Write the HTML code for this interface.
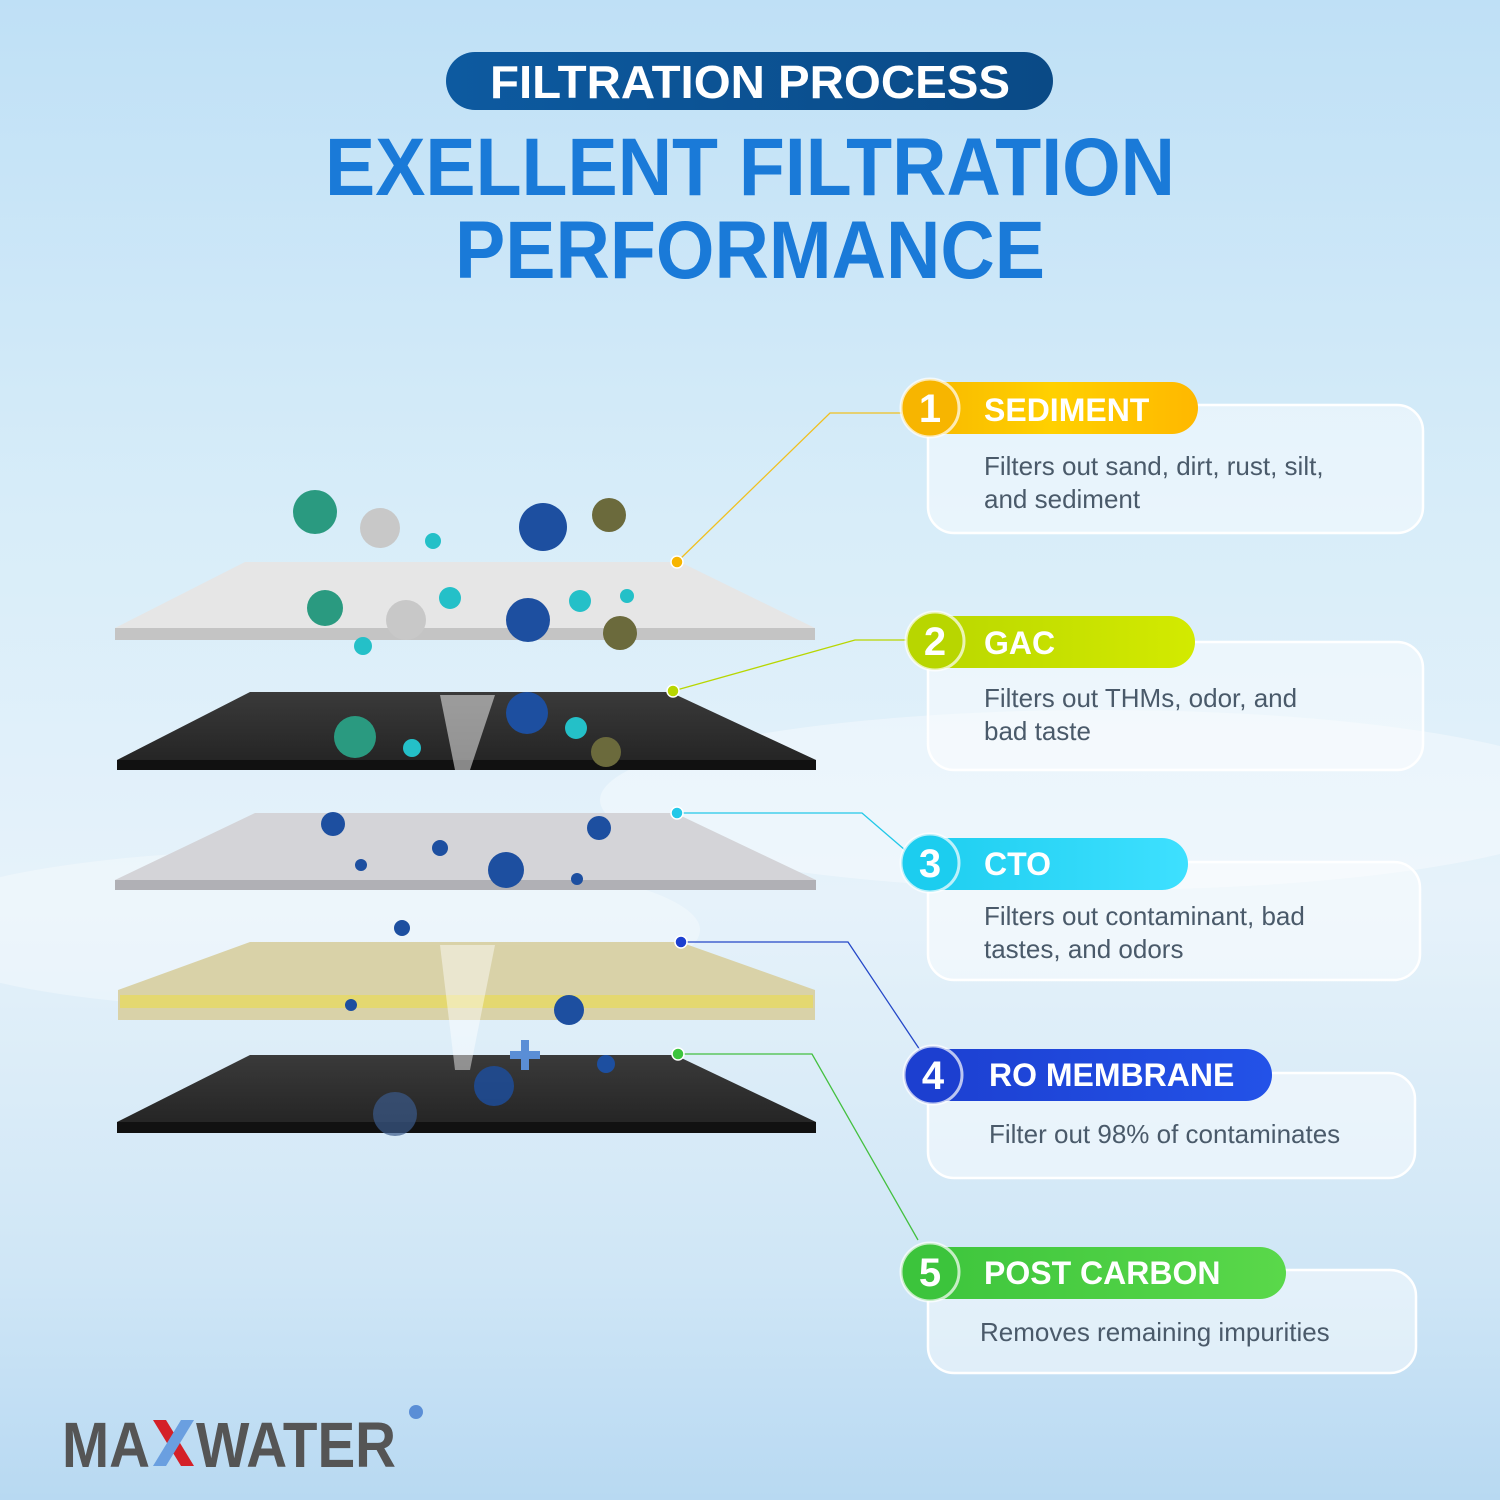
<!DOCTYPE html>
<html><head><meta charset="utf-8"><style>
html,body{margin:0;padding:0}
body{width:1500px;height:1500px;overflow:hidden;font-family:"Liberation Sans",sans-serif}
</style></head><body>
<svg width="1500" height="1500" viewBox="0 0 1500 1500" xmlns="http://www.w3.org/2000/svg" font-family="Liberation Sans, sans-serif">
<defs>
<linearGradient id="bg" x1="0" y1="0" x2="0" y2="1">
<stop offset="0" stop-color="#bfe0f6"/><stop offset="0.35" stop-color="#d8edf9"/><stop offset="0.6" stop-color="#e6f2fa"/><stop offset="0.85" stop-color="#cfe6f6"/><stop offset="1" stop-color="#b8d9f2"/></linearGradient>
<linearGradient id="tp" x1="0" y1="0" x2="1" y2="0"><stop offset="0" stop-color="#0d5aa0"/><stop offset="1" stop-color="#0a4a86"/></linearGradient>
<linearGradient id="p1" x1="0" x2="1"><stop offset="0" stop-color="#f7b500"/><stop offset=".5" stop-color="#ffd000"/><stop offset="1" stop-color="#ffb800"/></linearGradient>
<linearGradient id="p2" x1="0" x2="1"><stop offset="0" stop-color="#b8d600"/><stop offset="1" stop-color="#d3ea00"/></linearGradient>
<linearGradient id="p3" x1="0" x2="1"><stop offset="0" stop-color="#1ccdef"/><stop offset="1" stop-color="#3ee0ff"/></linearGradient>
<linearGradient id="p4" x1="0" x2="1"><stop offset="0" stop-color="#1c3fd0"/><stop offset="1" stop-color="#2352e8"/></linearGradient>
<linearGradient id="p5" x1="0" x2="1"><stop offset="0" stop-color="#3cc43c"/><stop offset="1" stop-color="#5ad84a"/></linearGradient>
<linearGradient id="dk" x1="0" y1="0" x2="0" y2="1"><stop offset="0" stop-color="#3a3a3a"/><stop offset="1" stop-color="#222"/></linearGradient>
</defs>
<rect width="1500" height="1500" fill="url(#bg)"/>
<ellipse cx="1100" cy="800" rx="500" ry="90" fill="#fff" opacity=".35"/>
<ellipse cx="300" cy="930" rx="400" ry="80" fill="#fff" opacity=".3"/>

<!-- title -->
<rect x="446" y="52" width="607" height="58" rx="29" fill="url(#tp)"/>
<text x="750" y="98" text-anchor="middle" fill="#fff" font-size="46" font-weight="bold" textLength="520" lengthAdjust="spacingAndGlyphs">FILTRATION PROCESS</text>
<text x="750" y="195" text-anchor="middle" fill="#1a7ad8" font-size="82" font-weight="bold" textLength="850" lengthAdjust="spacingAndGlyphs">EXELLENT FILTRATION</text>
<text x="750" y="278" text-anchor="middle" fill="#1a7ad8" font-size="82" font-weight="bold" textLength="590" lengthAdjust="spacingAndGlyphs">PERFORMANCE</text>

<!-- layers -->
<polygon points="245,562 680,562 815,628 815,640 115,640 115,628" fill="#e6e6e6"/>
<polygon points="115,628 815,628 815,640 115,640" fill="#c4c4c4"/>
<polygon points="250,692 670,692 816,760 816,770 117,770 117,760" fill="url(#dk)"/>
<polygon points="117,760 816,760 816,770 117,770" fill="#111"/>
<polygon points="255,813 675,813 816,880 816,890 115,890 115,880" fill="#d4d4d8"/>
<polygon points="115,880 816,880 816,890 115,890" fill="#b0b0b5"/>
<polygon points="250,942 680,942 815,990 815,1020 118,1020 118,990" fill="#d9d2a8"/>
<polygon points="120,995 813,995 813,1008 120,1008" fill="#e4d870"/>
<polygon points="250,1055 675,1055 816,1122 816,1133 117,1133 117,1122" fill="url(#dk)"/>
<polygon points="117,1122 816,1122 816,1133 117,1133" fill="#111"/>
<polygon points="440,695 495,695 470,770 455,770" fill="#fff" opacity=".5"/>
<polygon points="440,945 495,945 470,1070 455,1070" fill="#fff" opacity=".45"/>

<!-- particles -->
<g>
<circle cx="315" cy="512" r="22" fill="#2a9a80"/><circle cx="380" cy="528" r="20" fill="#c8c8c8"/><circle cx="433" cy="541" r="8" fill="#24c0c8"/>
<circle cx="543" cy="527" r="24" fill="#1d4fa0"/><circle cx="609" cy="515" r="17" fill="#6b6a3c"/>
<circle cx="325" cy="608" r="18" fill="#2a9a80"/><circle cx="406" cy="620" r="20" fill="#c8c8c8"/><circle cx="450" cy="598" r="11" fill="#24c0c8"/>
<circle cx="528" cy="620" r="22" fill="#1d4fa0"/><circle cx="580" cy="601" r="11" fill="#24c0c8"/><circle cx="620" cy="633" r="17" fill="#6b6a3c"/><circle cx="627" cy="596" r="7" fill="#24c0c8"/><circle cx="363" cy="646" r="9" fill="#24c0c8"/>
<circle cx="355" cy="737" r="21" fill="#2a9a80"/><circle cx="412" cy="748" r="9" fill="#24c0c8"/><circle cx="527" cy="713" r="21" fill="#1d4fa0"/><circle cx="576" cy="728" r="11" fill="#24c0c8"/><circle cx="606" cy="752" r="15" fill="#6b6a3c"/>
<circle cx="333" cy="824" r="12" fill="#1d4fa0"/><circle cx="599" cy="828" r="12" fill="#1d4fa0"/><circle cx="440" cy="848" r="8" fill="#1d4fa0"/><circle cx="506" cy="870" r="18" fill="#1d4fa0"/><circle cx="361" cy="865" r="6" fill="#1d4fa0"/><circle cx="577" cy="879" r="6" fill="#1d4fa0"/>
<circle cx="402" cy="928" r="8" fill="#1d4fa0"/><circle cx="351" cy="1005" r="6" fill="#1d4fa0"/><circle cx="569" cy="1010" r="15" fill="#1d4fa0"/><circle cx="606" cy="1064" r="9" fill="#1d4fa0"/><circle cx="494" cy="1086" r="20" fill="#1d4fa0" opacity=".8"/><circle cx="395" cy="1114" r="22" fill="#3b5a8a" opacity=".7"/>
<rect x="521" y="1040" width="8" height="30" fill="#5a8ed6"/><rect x="510" y="1051" width="30" height="8" fill="#5a8ed6"/>
</g>

<!-- connectors -->
<g fill="none" stroke-width="1.3">
<polyline points="677,562 830,413 905,413" stroke="#f0c020"/>
<polyline points="673,691 855,640 910,640" stroke="#b8d600"/>
<polyline points="677,813 862,813 905,850" stroke="#22c8e8"/>
<polyline points="681,942 848,942 920,1050" stroke="#2447c8"/>
<polyline points="678,1054 812,1054 918,1240" stroke="#44c040"/>
</g>
<circle cx="677" cy="562" r="6" fill="#f7b500" stroke="#fff" stroke-width="1.5"/>
<circle cx="673" cy="691" r="6" fill="#b8d600" stroke="#fff" stroke-width="1.5"/>
<circle cx="677" cy="813" r="6" fill="#22c8e8" stroke="#fff" stroke-width="1.5"/>
<circle cx="681" cy="942" r="6" fill="#1c3fd0" stroke="#fff" stroke-width="1.5"/>
<circle cx="678" cy="1054" r="6" fill="#3cc43c" stroke="#fff" stroke-width="1.5"/>

<!-- cards -->
<g fill="#ffffff" fill-opacity=".45" stroke="#fff" stroke-width="2.5">
<rect x="928" y="405" width="495" height="128" rx="26"/>
<rect x="928" y="642" width="495" height="128" rx="26"/>
<rect x="928" y="862" width="492" height="118" rx="26"/>
<rect x="928" y="1073" width="487" height="105" rx="26"/>
<rect x="928" y="1270" width="488" height="103" rx="26"/>
</g>
<rect x="905" y="382" width="293" height="52" rx="26" fill="url(#p1)"/>
<rect x="910" y="616" width="285" height="52" rx="26" fill="url(#p2)"/>
<rect x="905" y="838" width="283" height="52" rx="26" fill="url(#p3)"/>
<rect x="910" y="1049" width="362" height="52" rx="26" fill="url(#p4)"/>
<rect x="905" y="1247" width="381" height="52" rx="26" fill="url(#p5)"/>
<g stroke="#fff" stroke-width="3" stroke-opacity=".7">
<circle cx="930" cy="408" r="29" fill="#f7b500"/>
<circle cx="935" cy="641" r="29" fill="#b8d600"/>
<circle cx="930" cy="863" r="29" fill="#1ccdef"/>
<circle cx="933" cy="1075" r="29" fill="#1c3fd0"/>
<circle cx="930" cy="1272" r="29" fill="#3cc43c"/>
</g>
<g fill="#fff" font-weight="bold" font-size="40" text-anchor="middle">
<text x="930" y="422">1</text><text x="935" y="655">2</text><text x="930" y="877">3</text><text x="933" y="1089">4</text><text x="930" y="1286">5</text>
</g>
<g fill="#fff" font-weight="bold" font-size="32">
<text x="984" y="421">SEDIMENT</text>
<text x="984" y="654">GAC</text>
<text x="984" y="875">CTO</text>
<text x="989" y="1086">RO MEMBRANE</text>
<text x="984" y="1284">POST CARBON</text>
</g>
<g fill="#4a5a6a" font-size="26">
<text x="984" y="475">Filters out sand, dirt, rust, silt,</text>
<text x="984" y="508">and sediment</text>
<text x="984" y="707">Filters out THMs, odor, and</text>
<text x="984" y="740">bad taste</text>
<text x="984" y="925">Filters out contaminant, bad</text>
<text x="984" y="958">tastes, and odors</text>
<text x="989" y="1143">Filter out 98% of contaminates</text>
<text x="980" y="1341">Removes remaining impurities</text>
</g>

<!-- logo -->
<g font-weight="bold" font-size="64" fill="#555">
<text x="62" y="1467" textLength="88" lengthAdjust="spacingAndGlyphs">MA</text>
<polygon points="153,1420 166,1420 194,1466 181,1466" fill="#d42028"/>
<polygon points="181,1420 194,1420 166,1466 153,1466" fill="#6a9fe0"/>
<text x="196" y="1467" textLength="200" lengthAdjust="spacingAndGlyphs">WATER</text>
</g>
<circle cx="416" cy="1412" r="7" fill="#5a8ed6"/>
</svg>
</body></html>
